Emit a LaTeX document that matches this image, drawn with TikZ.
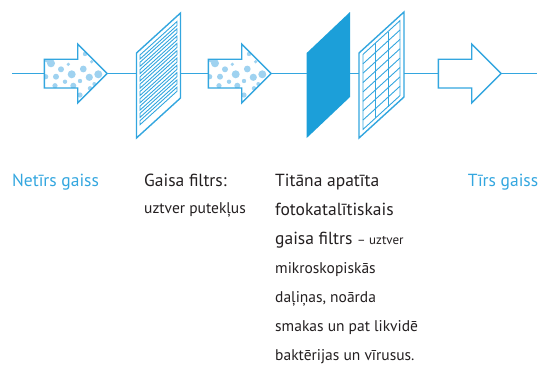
\documentclass[tikz,border=0pt]{standalone}
\usepackage{fontspec}
\setmainfont{PT Sans}
\usepackage{xcolor}
\usepackage{tikz}
\definecolor{AirBlue}{HTML}{33A6DF}
\definecolor{AirDark}{HTML}{1C9FD9}
\definecolor{AirDot}{HTML}{9FD2F0}
\definecolor{AirText}{HTML}{231F20}
\tikzset{
  flow/.style={AirBlue,line width=1.3pt},
  outline/.style={draw=AirBlue,line width=1.4pt,line join=miter},
  thinline/.style={draw=AirBlue,line width=0.9pt},
  bigtxt/.style={anchor=base west,inner sep=0pt,font=\fontsize{17.5}{19}\selectfont,text=AirText},
  smalltxt/.style={anchor=base west,inner sep=0pt,font=\fontsize{15.5}{17}\selectfont,text=AirText}
}

\begin{document}
\begin{tikzpicture}[x=1pt,y=-1pt]
\path[use as bounding box] (0,0) rectangle (539,365);
\coordinate (start) at (12,73.5);
\coordinate (end) at (537,73.5);
\foreach \ax/\nm in {44.3/a1,208.3/a2,438.3/a3}{
  \coordinate (\nm-tail) at (\ax,73.5);
  \coordinate (\nm-tip) at (\ax+62.8,73.5);
}
% dotted fill of the two first arrows
\foreach \ax in {44.3,208.3}{
  \begin{scope}
    \clip (\ax,59.2) -- (\ax+33.4,59.2) -- (\ax+33.4,44) -- (\ax+62.8,73.5) -- (\ax+33.4,103) -- (\ax+33.4,88) -- (\ax,88) -- cycle;
    \foreach \dx/\dy/\r in {6.7/63.3/4,16.7/69.3/3,24/64.3/1.8,39/69/3.4,40.7/54/2.2,47.4/61.7/1.8,
      27.4/74.3/4,11.7/76.7/3,45/77.3/3.6,54/74.3/4,35.7/81/2.2,20.7/81.7/2.2,10.7/85.7/2.6,
      29/85.7/3,45.7/88.3/2.2,35.7/95/2.6,1.4/76.7/2.6,40.7/98.3/2.2,3/60/2.6,50/84/2,38/48/1.6}
      \fill[AirDot] (\ax+\dx,\dy) circle (\r pt);
  \end{scope}
}
\foreach \ax in {44.3,208.3,438.3}
  \draw[outline] (\ax,59.2) -- (\ax+33.4,59.2) -- (\ax+33.4,44) -- (\ax+62.8,73.5) -- (\ax+33.4,103) -- (\ax+33.4,88) -- (\ax,88) -- cycle;
% dust filter
\coordinate (f1-l) at (136.5,73.5);
\coordinate (f1-r) at (180.5,73.5);
\draw[outline] (136.5,53) -- (180.5,13) -- (180.5,98) -- (136.5,138) -- cycle;
\foreach \i in {0,...,9}
  \draw[thinline] (140,55+\i*7.3) -- (177,21.5+\i*7.3) -- (177,25.5+\i*7.3) -- (140,59+\i*7.3) -- cycle;
% photocatalytic filter
\coordinate (f2-l) at (306.7,73.5);
\coordinate (f2-r) at (350,73.5);
\fill[AirDark] (306.7,53) -- (350,12) -- (350,97) -- (306.7,138) -- cycle;
\coordinate (f3-l) at (359,73.5);
\coordinate (f3-r) at (404,73.5);
\draw[outline] (359,53) -- (404,12) -- (404,97) -- (359,138) -- cycle;
\draw[thinline] (363,54.4) -- (400,20.6) -- (400,95.6) -- (363,129.4) -- cycle;
\foreach \i in {1,...,7}
  \draw[thinline] (363,54.4+\i*9.375) -- (400,20.6+\i*9.375);
\draw[thinline] (375.5,43) -- (375.5,118);
\draw[thinline] (388,31.6) -- (388,106.6);
% air flow
\draw[flow] (start) -- (a1-tail);
\draw[flow] (a1-tip) -- (f1-l);
\draw[flow] (f1-r) -- (a2-tail);
\draw[flow] (a2-tip) -- (f2-l);
\draw[flow] (f2-r) -- (f3-l);
\draw[flow] (f3-r) -- (a3-tail);
\draw[flow] (a3-tip) -- (end);
% labels
\node[bigtxt,text=AirBlue] (dirty) at (12,186.7) {Netīrs gaiss};
\node[bigtxt] (f1-title) at (144,186.7) {Gaisa filtrs:};
\node[smalltxt] (f1-desc) at (144,213.5) {uztver putekļus};
\node[bigtxt] (f2-line1) at (275,186.7) {Titāna apatīta};
\node[bigtxt] (f2-line2) at (275,215.7) {fotokatalītiskais};
\node[bigtxt] (f2-line3) at (275,244.7) {gaisa filtrs {\fontsize{13}{15}\selectfont – uztver}};
\node[smalltxt] (f2-line4) at (275,273.3) {mikroskopiskās};
\node[smalltxt] (f2-line5) at (275,302) {daļiņas, noārda};
\node[smalltxt] (f2-line6) at (275,331) {smakas un pat likvidē};
\node[smalltxt] (f2-line7) at (275,360) {baktērijas un vīrusus.};
\node[bigtxt,text=AirBlue] (clean) at (467.7,186.7) {Tīrs gaiss};
\end{tikzpicture}
\end{document}
